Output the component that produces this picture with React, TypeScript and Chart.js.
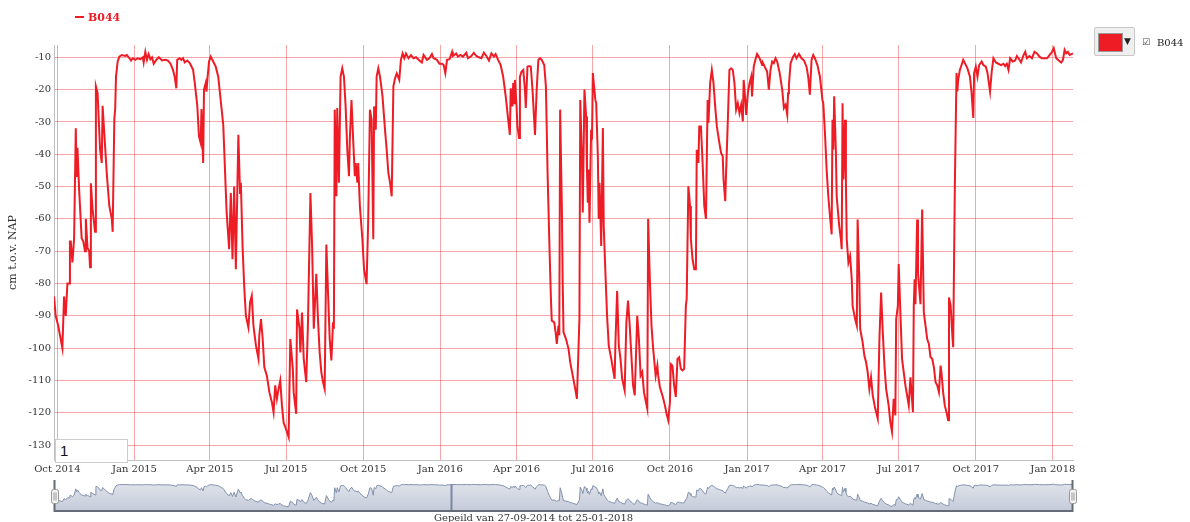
import React, { useEffect, useRef } from "react";
import { Chart, registerables } from "chart.js";

Chart.register(...registerables);

// ---------- data ----------
const START_DATE = "2014-09-27";
const END_DATE = "2018-01-25";
const SERIES_NAME = "B044";
const Y_AXIS_TITLE = "cm t.o.v. NAP";
const FOOTER_TEXT = "Gepeild van 27-09-2014 tot 25-01-2018";
const RANGE_INPUT_TEXT = "1";

const xTickDates = [
  "2014-10-01", "2015-01-01", "2015-04-01", "2015-07-01", "2015-10-01",
  "2016-01-01", "2016-04-01", "2016-07-01", "2016-10-01", "2017-01-01",
  "2017-04-01", "2017-07-01", "2017-10-01", "2018-01-01",
];
const xTickLabels = [
  "Oct 2014", "Jan 2015", "Apr 2015", "Jul 2015", "Oct 2015",
  "Jan 2016", "Apr 2016", "Jul 2016", "Oct 2016", "Jan 2017",
  "Apr 2017", "Jul 2017", "Oct 2017", "Jan 2018",
];
const yTickValues = [-10, -20, -30, -40, -50, -60, -70, -80, -90, -100, -110, -120, -130];

// [days since START_DATE, level in cm t.o.v. NAP]
const readings2014: [number, number][] = [
  [0, -84], [2, -90], [5, -93], [10, -100], [12, -84], [14, -90], [16, -80], [18, -80], [19, -67], [20, -67],
  [22, -73.5], [24, -66], [26, -32], [27, -47], [28, -38], [30, -51], [33, -66], [35, -67], [37, -70], [38, -60],
  [40, -69], [42, -70], [43, -75], [44, -49], [46, -57], [49, -64], [50, -19], [52, -21], [55, -38.6], [57, -42.7],
  [58, -25], [60, -33.4], [63, -46], [66, -56], [69, -60], [70, -64], [72, -29], [73, -26], [74, -16], [76, -11.3],
  [78, -9.8], [81, -9.3], [85, -9.6], [87, -9.3], [90, -10.3], [92, -11], [94, -10.3],
];
const readings2015: [number, number][] = [
  [97, -10.8], [100, -10.3], [103, -10.6], [106, -10], [107, -11.6], [109, -8.3], [111, -10.8], [113, -9], [115, -10.6], [117, -10],
  [119, -12], [122, -10.8], [125, -10], [129, -11], [133, -10.8], [136, -11], [139, -12], [142, -13.9], [144, -16], [146, -19.6],
  [147, -10.8], [150, -10.3], [152, -10.8], [154, -10.3], [156, -11.6], [159, -11], [162, -11.8], [166, -13.9], [168, -18], [171, -25],
  [173, -34.5], [175, -36.5], [176, -26], [178, -42.7], [179, -20], [181, -18], [182, -20.6], [183, -17], [185, -11.3], [187, -9.8],
  [190, -11.3], [193, -12.9], [196, -16], [198, -21], [202, -31], [206, -58], [209, -69.4], [211, -52], [213, -72.5], [215, -50],
  [217, -75.6], [220, -34], [222, -52], [223, -48.8], [225, -68.4], [227, -81], [229, -90], [232, -93.6], [234, -85.8], [236, -83.8],
  [238, -93], [241, -99.2], [244, -103.3], [245, -96], [247, -91], [249, -97], [251, -105.9], [254, -108.5], [257, -113.6], [260, -116.7],
  [262, -119.8], [264, -111.5], [266, -115.7], [268, -112.6], [270, -110], [272, -117.7], [274, -123], [276, -124.4], [280, -127.5], [282, -97.2],
  [285, -106.4], [286, -113.6], [289, -120.3], [290, -88], [293, -94], [294, -101.3], [296, -89], [298, -103.3], [301, -110.5], [303, -93],
  [306, -52], [308, -68.4], [310, -94], [313, -77], [315, -91], [317, -101.3], [319, -107.4], [321, -110.5], [323, -112.6], [325, -67.9],
  [327, -82.8], [329, -97.2], [331, -103.8], [333, -92], [334, -94], [335, -26.2], [337, -53], [338, -25.7], [340, -48.8], [342, -16],
  [344, -13.4], [346, -16], [348, -25.2], [350, -38.6], [352, -46.8], [353, -35.5], [355, -23.2], [357, -35.5], [359, -46.8], [360, -42.7],
  [362, -48.8], [363, -42.7], [365, -56], [368, -66.3], [370, -75.6], [373, -80.2], [375, -60], [377, -26.2], [379, -29.3], [381, -66.3],
  [382, -25.2], [384, -32.4], [385, -16], [387, -13.4], [389, -16], [392, -22], [395, -32.4], [397, -38.6], [399, -45.8], [401, -48.8],
  [403, -53], [405, -19], [407, -16.5], [409, -15], [412, -17], [414, -10.8], [416, -8.8], [418, -10.3], [420, -8.8], [423, -10.3],
  [426, -9.3], [429, -10.3], [432, -10], [436, -11], [439, -11.6], [441, -9.3], [445, -10.8], [448, -10.3], [451, -9], [453, -10.3],
  [457, -10.8], [460, -12],
];
const readings2016: [number, number][] = [
  [463, -12], [465, -12.4], [467, -14.9], [469, -10.8], [472, -10.6], [475, -8.3], [476, -9.6], [480, -8.8], [482, -9.8], [485, -9.3],
  [488, -9.8], [492, -8.6], [494, -10.3], [498, -9.6], [501, -8.6], [504, -9.6], [507, -10], [510, -10.3], [513, -8.6], [516, -9.6],
  [519, -11], [522, -8.8], [525, -9.8], [527, -9], [530, -10.8], [533, -12.4], [536, -16], [539, -22], [542, -29.3], [544, -34],
  [545, -19.6], [547, -25.2], [548, -18], [549, -24.2], [550, -17], [552, -25.2], [553, -31.4], [555, -35], [556, -16], [558, -14.4],
  [560, -13.9], [562, -20], [563, -25.7], [565, -12.9], [567, -12.7], [569, -12.9], [571, -20], [574, -34], [576, -20], [578, -10.8],
  [580, -10.3], [582, -10.8], [585, -12.4], [587, -19], [589, -45.8], [591, -66.3], [593, -84.8], [594, -91.5], [597, -92], [599, -96],
  [600, -98.7], [602, -93], [603, -96], [604, -26.2], [606, -56], [607, -78.7], [608, -95], [611, -97.2], [614, -100.2], [616, -104.3],
  [619, -108.5], [622, -112.6], [624, -115.7], [627, -91], [628, -23.2], [630, -41.7], [631, -58], [633, -20], [635, -28.3], [636, -44.7],
  [637, -55], [638, -44.7], [639, -61.2], [641, -32.4], [642, -35.5], [643, -14.9], [646, -23.2], [647, -24.2], [649, -40.6], [650, -60],
  [651, -48.8], [653, -68.4], [655, -31.9], [656, -62.2], [658, -76.6], [660, -90], [662, -99.2], [665, -103.3], [667, -106.4], [669, -109.5],
  [670, -98.2], [672, -82.3], [674, -99.2], [676, -103.3], [678, -109.5], [681, -113.1], [683, -92], [685, -85.3], [687, -93], [689, -102.3],
  [691, -111.5], [693, -114.6], [696, -90], [698, -97.2], [700, -108.5], [702, -107.4], [704, -113.6], [706, -116.2], [708, -118.7], [709, -60],
  [711, -78.7], [713, -93], [715, -100.2], [718, -108.5], [720, -105.4], [721, -108.5], [723, -112], [726, -114.6], [729, -117.7], [731, -120.3],
  [733, -122.3], [735, -116.7], [736, -104.9], [738, -105.4], [740, -111.5], [742, -115.1], [744, -103.3], [746, -102.8], [748, -106.4], [750, -106.9],
  [752, -106.4], [754, -86.9], [755, -84.8], [757, -49.9], [759, -56], [760, -66.3], [762, -72.5], [764, -75.6], [766, -75.6], [767, -38.6],
  [769, -42.7], [770, -31.4], [772, -31.4], [774, -42.7], [776, -56], [778, -60], [780, -23.2], [781, -30.3], [783, -18], [785, -13.9],
  [787, -18], [789, -25.2], [791, -31.4], [794, -36.5], [796, -39.6], [798, -40.6], [799, -47.8], [801, -54.5], [802, -45.8], [804, -30.3],
  [806, -13.9], [808, -13.4], [810, -13.9], [812, -18], [814, -26.2], [816, -24.2], [818, -27.3], [820, -24.7], [822, -29.8], [823, -17],
  [824, -20], [826, -27.8],
];
const readings2017: [number, number][] = [
  [828, -21.1], [830, -18], [832, -16], [833, -22.1], [835, -12.9], [837, -10.8], [839, -9], [842, -10.3], [845, -12.4], [846, -11.8],
  [849, -13.4], [851, -14.4], [853, -20], [855, -13.9], [857, -11.3], [859, -11.8], [861, -10.3], [863, -11.3], [866, -14.9], [869, -20],
  [871, -25.7], [873, -24.7], [875, -27.8], [876, -21.1], [877, -18.5], [879, -11.8], [882, -9.8], [884, -9], [886, -10.3], [889, -9],
  [892, -10.3], [895, -11], [898, -12.9], [900, -16], [902, -21.6], [904, -10.8], [906, -9.3], [908, -10.3], [911, -12.4], [914, -16],
  [917, -23.2], [918, -24.2], [920, -33.4], [922, -44.7], [924, -53], [926, -59.1], [928, -64.8], [929, -29.3], [930, -38.6], [931, -22.1],
  [933, -38.6], [934, -53], [937, -62.2], [939, -66.3], [940, -69.4], [941, -24.2], [942, -47.8], [944, -29.3], [945, -48.8], [946, -66.3],
  [948, -73.5], [950, -71.5], [952, -78.7], [953, -86.9], [956, -91], [958, -93], [959, -60.2], [961, -78.7], [962, -94], [965, -98.2],
  [967, -102.3], [969, -104.3], [971, -107.4], [973, -112.6], [975, -109], [977, -114.6], [980, -118.7], [983, -121.8], [985, -97.2], [987, -82.8],
  [989, -95], [991, -105.4], [993, -112.6], [996, -117.7], [998, -122.8], [1000, -125.9], [1002, -115.7], [1004, -120.8], [1005, -91], [1007, -86.9],
  [1008, -74], [1010, -89], [1012, -103.3], [1014, -107.4], [1016, -111.5], [1018, -114.6], [1020, -117.7], [1022, -109], [1025, -119.8], [1026, -86.9],
  [1027, -78.7], [1028, -86.4], [1030, -60.2], [1031, -76.6], [1034, -86.4], [1036, -57.1], [1038, -89], [1040, -93], [1042, -97.2], [1044, -98.7],
  [1046, -102.8], [1048, -103.3], [1050, -105.9], [1052, -110.5], [1054, -111.5], [1056, -113.6], [1058, -105.4], [1059, -107.4], [1061, -113.6], [1063, -117.7],
  [1065, -119.8], [1067, -122.3], [1068, -84.3], [1070, -86.9], [1072, -96], [1073, -99.7], [1075, -49.9], [1077, -14.9], [1078, -20.6], [1079, -17],
  [1081, -13.9], [1083, -12.4], [1085, -10.8], [1087, -11.8], [1090, -13.4], [1093, -16], [1095, -21.1], [1097, -28.8], [1098, -14.9], [1100, -12.9],
  [1102, -16], [1104, -12.4], [1107, -11.3], [1109, -12.4], [1112, -12.9], [1114, -14.9], [1117, -20.6], [1119, -14.4], [1121, -10.3], [1124, -11.6],
  [1127, -12], [1130, -12.4], [1133, -12], [1135, -12.7], [1137, -12], [1139, -13.9], [1141, -10.3], [1144, -11.3], [1147, -11], [1149, -9.6],
  [1151, -10.3], [1154, -11.6], [1157, -9.3], [1159, -8.3], [1161, -10.3], [1164, -9.6], [1167, -10.3], [1170, -8.3], [1173, -8.8], [1176, -9.8],
  [1179, -10.3], [1182, -10.3], [1185, -10.3], [1188, -9.3], [1191, -8.3],
];
const readings2018: [number, number][] = [
  [1193, -7.2], [1195, -9.3], [1196, -10.3], [1199, -11], [1202, -11.6], [1204, -10.8], [1206, -7.7], [1208, -8.8], [1210, -8.3], [1212, -9.3],
  [1216, -8.8],
];
const navigatorMarkerDays = [474];

// ---------- styles ----------
const LINE_COLOR = "#ee1c25";
const GRID_COLOR = "rgba(235, 60, 60, 0.45)";
const AXIS_COLOR = "#c0c0c0";
const TEXT_COLOR = "#333333";
const SERIF = "'DejaVu Serif', serif";

const MS_DAY = 86400000;
const dayOf = (d: string) => (Date.parse(d) - Date.parse(START_DATE)) / MS_DAY;

export default function App() {
  const mainRef = useRef<HTMLCanvasElement | null>(null);
  const navRef = useRef<HTMLCanvasElement | null>(null);

  useEffect(() => {
    const all = [...readings2014, ...readings2015, ...readings2016, ...readings2017, ...readings2018];
    const points = all.map(([x, y]) => ({ x, y }));
    const endDay = dayOf(END_DATE);
    const tickDays = xTickDates.map(dayOf);

    const main = new Chart(mainRef.current!, {
      type: "line",
      data: {
        datasets: [
          {
            label: SERIES_NAME,
            data: points,
            borderColor: LINE_COLOR,
            borderWidth: 2,
            pointRadius: 0,
            tension: 0,
            fill: false,
          },
        ],
      },
      options: {
        animation: false,
        responsive: false,
        maintainAspectRatio: false,
        layout: { padding: { left: 0, top: 45, right: 27, bottom: 0 } },
        plugins: { legend: { display: false }, tooltip: { enabled: false } },
        scales: {
          x: {
            type: "linear",
            min: 0,
            max: endDay,
            afterBuildTicks: (s: any) => {
              s.ticks = tickDays.map((v) => ({ value: v }));
            },
            afterFit: (s: any) => {
              s.height = 20;
            },
            ticks: {
              autoSkip: false,
              maxRotation: 0,
              padding: 3,
              color: TEXT_COLOR,
              font: { family: SERIF, size: 10 },
              callback: (_v: any, i: number) => xTickLabels[i],
            },
            grid: { color: GRID_COLOR, drawTicks: false, lineWidth: 1 },
            border: { color: AXIS_COLOR, width: 1 },
          },
          y: {
            type: "linear",
            min: -134.6,
            max: -6.2,
            afterBuildTicks: (s: any) => {
              s.ticks = yTickValues.map((v) => ({ value: v }));
            },
            afterFit: (s: any) => {
              s.width = 54;
            },
            ticks: {
              padding: 3,
              color: TEXT_COLOR,
              font: { family: SERIF, size: 10 },
              callback: (v: any) => String(v),
            },
            grid: { color: GRID_COLOR, drawTicks: false, lineWidth: 1 },
            border: { color: AXIS_COLOR, width: 1 },
            title: {
              display: true,
              text: Y_AXIS_TITLE,
              color: TEXT_COLOR,
              font: { family: SERIF, size: 11 },
              padding: { top: 7, bottom: 0 },
            },
          },
        },
      },
    });

    const navDecor = {
      id: "navDecor",
      afterDatasetsDraw(chart: any) {
        const { ctx, chartArea: a, scales } = chart;
        ctx.save();
        // marker lines
        ctx.strokeStyle = "#7a88a6";
        ctx.lineWidth = 2;
        navigatorMarkerDays.forEach((d) => {
          const x = Math.round(scales.x.getPixelForValue(d)) + 0.5;
          ctx.beginPath();
          ctx.moveTo(x, a.top + 4);
          ctx.lineTo(x, a.bottom);
          ctx.stroke();
        });
        // outline
        ctx.strokeStyle = "#666b78";
        ctx.lineWidth = 2;
        ctx.beginPath();
        ctx.moveTo(a.left + 0.5, a.top);
        ctx.lineTo(a.left + 0.5, a.bottom);
        ctx.lineTo(a.right - 0.5, a.bottom);
        ctx.lineTo(a.right - 0.5, a.top);
        ctx.stroke();
        // handles
        const cy = a.top + 16;
        [a.left + 0.5, a.right - 0.5].forEach((x) => {
          ctx.fillStyle = "#f2f2f2";
          ctx.strokeStyle = "#999999";
          ctx.lineWidth = 1;
          ctx.beginPath();
          const w = 7, h = 14;
          const l = Math.round(x - w / 2) + 0.5;
          const t = Math.round(cy - h / 2) + 0.5;
          ctx.roundRect ? ctx.roundRect(l, t, w, h, 2) : ctx.rect(l, t, w, h);
          ctx.fill();
          ctx.stroke();
          ctx.beginPath();
          ctx.moveTo(l + 2.5, t + 3);
          ctx.lineTo(l + 2.5, t + h - 3);
          ctx.moveTo(l + 4.5, t + 3);
          ctx.lineTo(l + 4.5, t + h - 3);
          ctx.stroke();
        });
        ctx.restore();
      },
    };

    const nav = new Chart(navRef.current!, {
      type: "line",
      data: {
        datasets: [
          {
            data: points,
            borderColor: "#8391ad",
            borderWidth: 1,
            pointRadius: 0,
            tension: 0,
            fill: "start",
            backgroundColor: (c: any) => {
              const a = c.chart.chartArea;
              if (!a) return "rgba(205,211,224,1)";
              const g = c.chart.ctx.createLinearGradient(0, a.top, 0, a.bottom);
              g.addColorStop(0, "rgb(226,229,236)");
              g.addColorStop(1, "rgb(196,203,217)");
              return g;
            },
          },
        ],
      },
      options: {
        animation: false,
        responsive: false,
        maintainAspectRatio: false,
        layout: { padding: { left: 54, top: 4, right: 27, bottom: 5 } },
        plugins: { legend: { display: false }, tooltip: { enabled: false } },
        scales: {
          x: { type: "linear", min: 0, max: endDay, display: false },
          y: { type: "linear", min: -150, max: 15, display: false },
        },
      },
      plugins: [navDecor],
    });

    return () => {
      main.destroy();
      nav.destroy();
    };
  }, []);

  return (
    <div style={{ position: "absolute", left: 0, top: 0, width: 1190, height: 522, overflow: "hidden", background: "#fff" }}>
      <canvas ref={mainRef} width={1100} height={480} style={{ position: "absolute", left: 0, top: 0, width: 1100, height: 480 }} />
      <canvas ref={navRef} width={1100} height={40} style={{ position: "absolute", left: 0, top: 476, width: 1100, height: 40 }} />

      {/* top legend */}
      <div style={{ position: "absolute", left: 75, top: 11, height: 13, lineHeight: "13px", whiteSpace: "nowrap", fontFamily: SERIF, fontSize: 11, fontWeight: "bold", color: LINE_COLOR }}>
        <span style={{ display: "inline-block", width: 9, height: 2, background: LINE_COLOR, verticalAlign: "middle", marginRight: 4, position: "relative", top: -1 }} />
        {SERIES_NAME}
      </div>

      {/* right colour picker widget */}
      <div style={{ position: "absolute", left: 1094, top: 27, width: 41, height: 29, boxSizing: "border-box", border: "1px solid #c8c8c8", background: "#efefef", borderRadius: 2 }}>
        <div style={{ position: "absolute", left: 3, top: 5, width: 23, height: 17, background: LINE_COLOR, border: "1px solid #999" }} />
        <div style={{ position: "absolute", left: 29, top: 7, fontSize: 9, lineHeight: "12px", fontFamily: "'DejaVu Sans', sans-serif", color: "#222" }}>▼</div>
      </div>
      <div style={{ position: "absolute", left: 1142, top: 36, fontSize: 9, lineHeight: "12px", fontFamily: "'DejaVu Sans', sans-serif", color: "#444" }}>☑</div>
      <div style={{ position: "absolute", left: 1157, top: 37, fontSize: 10, lineHeight: "12px", fontFamily: SERIF, color: "#222", whiteSpace: "nowrap" }}>{SERIES_NAME}</div>

      {/* range input box */}
      <div style={{ position: "absolute", left: 55, top: 439, width: 73, height: 24, boxSizing: "border-box", border: "1px solid #cccccc", background: "#fff", fontFamily: "'Liberation Sans', sans-serif", fontSize: 15, lineHeight: "22px", paddingLeft: 4, color: "#111" }}>
        {RANGE_INPUT_TEXT}
      </div>

      {/* footer */}
      <div style={{ position: "absolute", left: 434, top: 512, fontSize: 10, lineHeight: "12px", fontFamily: SERIF, color: TEXT_COLOR, whiteSpace: "nowrap" }}>{FOOTER_TEXT}</div>
    </div>
  );
}
